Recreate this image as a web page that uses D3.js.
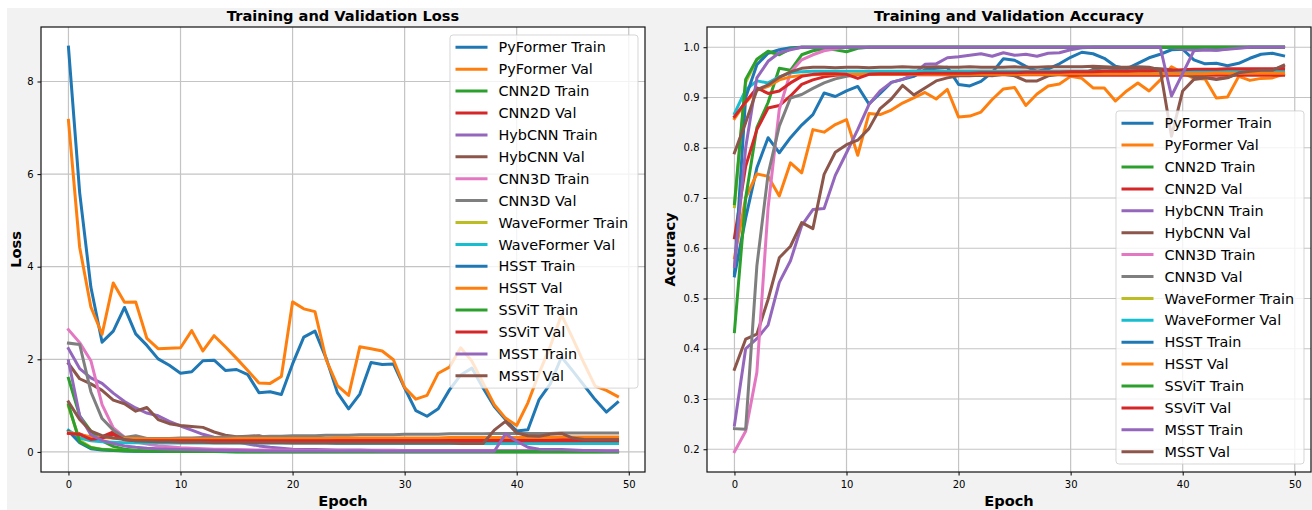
<!DOCTYPE html>
<html lang="en">
<meta charset="UTF-8">
<title>Training and Validation Loss / Accuracy</title>
<script src="https://d3js.org/d3.v7.min.js"></script>
<style>
body { margin: 0; background: #fff; }
svg text { font-family: "DejaVu Sans", sans-serif; fill: #000; }
</style>
<body>
<div id="chart"></div>
<script>
// ---- data ----
var epochs = d3.range(50);
var epochTicks = [0, 10, 20, 30, 40, 50];
var lossTicks = [0, 2, 4, 6, 8];
var accTicks = [0.2, 0.3, 0.4, 0.5, 0.6, 0.7, 0.8, 0.9, 1.0];

var seriesNames = ["PyFormer Train", "PyFormer Val", "CNN2D Train", "CNN2D Val",
  "HybCNN Train", "HybCNN Val", "CNN3D Train", "CNN3D Val",
  "WaveFormer Train", "WaveFormer Val", "HSST Train", "HSST Val",
  "SSViT Train", "SSViT Val", "MSST Train", "MSST Val"];

// loss
var pyformerTrainLoss = [
  8.74, 5.60, 3.56, 2.37, 2.61, 3.12, 2.55, 2.30, 2.01, 1.87,
  1.70, 1.73, 1.97, 1.98, 1.76, 1.78, 1.67, 1.28, 1.30, 1.24,
  1.90, 2.48, 2.61, 2.02, 1.28, 0.93, 1.25, 1.93, 1.89, 1.90,
  1.38, 0.89, 0.77, 0.93, 1.34, 1.66, 1.81, 1.38, 0.98, 0.70,
  0.45, 0.48, 1.13, 1.47, 2.05, 1.75, 1.44, 1.13, 0.86, 1.07];
var pyformerValLoss = [
  7.16, 4.42, 3.13, 2.54, 3.65, 3.23, 3.24, 2.45, 2.23, 2.24,
  2.25, 2.62, 2.18, 2.51, 2.27, 2.02, 1.76, 1.49, 1.48, 1.63,
  3.24, 3.09, 3.03, 1.99, 1.43, 1.22, 2.27, 2.23, 2.18, 1.99,
  1.39, 1.14, 1.22, 1.70, 1.83, 2.25, 1.96, 1.49, 1.02, 0.73,
  0.57, 1.06, 1.70, 2.28, 2.96, 2.45, 1.92, 1.42, 1.33, 1.20];
var cnn2dTrainLoss = [
  1.59, 0.78, 0.45, 0.24, 0.12, 0.06, 0.035, 0.022, 0.016, 0.012,
  0.010, 0.009, 0.008, 0.007, 0.007, 0.006, 0.006, 0.005, 0.005, 0.005,
  0.005, 0.005, 0.005, 0.004, 0.004, 0.004, 0.004, 0.004, 0.004, 0.004,
  0.004, 0.003, 0.003, 0.003, 0.003, 0.003, 0.003, 0.003, 0.003, 0.003,
  0.003, 0.003, 0.003, 0.003, 0.003, 0.003, 0.003, 0.003, 0.003, 0.003];
var cnn2dValLoss = [
  0.41, 0.39, 0.29, 0.33, 0.43, 0.30, 0.28, 0.27, 0.27, 0.27,
  0.27, 0.27, 0.27, 0.27, 0.27, 0.27, 0.27, 0.27, 0.27, 0.27,
  0.27, 0.27, 0.27, 0.27, 0.27, 0.27, 0.27, 0.27, 0.27, 0.27,
  0.27, 0.27, 0.27, 0.27, 0.27, 0.27, 0.27, 0.27, 0.27, 0.27,
  0.27, 0.27, 0.28, 0.28, 0.28, 0.28, 0.28, 0.28, 0.28, 0.28];
var hybcnnTrainLoss = [
  2.23, 1.80, 1.60, 1.48, 1.27, 1.09, 0.95, 0.84, 0.78, 0.66,
  0.56, 0.47, 0.38, 0.32, 0.27, 0.22, 0.17, 0.13, 0.10, 0.08,
  0.06, 0.05, 0.05, 0.045, 0.04, 0.04, 0.04, 0.035, 0.035, 0.035,
  0.03, 0.03, 0.03, 0.03, 0.03, 0.03, 0.03, 0.03, 0.03, 0.03,
  0.03, 0.03, 0.03, 0.025, 0.025, 0.025, 0.025, 0.025, 0.025, 0.025];
var hybcnnValLoss = [
  1.91, 1.58, 1.47, 1.33, 1.12, 1.04, 0.88, 0.96, 0.70, 0.61,
  0.57, 0.55, 0.53, 0.43, 0.36, 0.33, 0.34, 0.35, 0.29, 0.26,
  0.25, 0.24, 0.24, 0.23, 0.23, 0.23, 0.23, 0.22, 0.22, 0.22,
  0.22, 0.22, 0.21, 0.21, 0.21, 0.21, 0.21, 0.21, 0.21, 0.21,
  0.21, 0.21, 0.21, 0.21, 0.21, 0.21, 0.21, 0.21, 0.21, 0.21];
var cnn3dTrainLoss = [
  2.64, 2.36, 1.97, 1.02, 0.52, 0.32, 0.22, 0.17, 0.13, 0.11,
  0.09, 0.08, 0.07, 0.06, 0.055, 0.05, 0.045, 0.04, 0.04, 0.035,
  0.035, 0.03, 0.03, 0.03, 0.03, 0.025, 0.025, 0.025, 0.025, 0.025,
  0.02, 0.02, 0.02, 0.02, 0.02, 0.02, 0.02, 0.02, 0.02, 0.02,
  0.02, 0.02, 0.02, 0.02, 0.02, 0.02, 0.02, 0.02, 0.02, 0.02];
var cnn3dValLoss = [
  2.35, 2.32, 1.30, 0.72, 0.47, 0.31, 0.35, 0.29, 0.29, 0.29,
  0.30, 0.30, 0.31, 0.31, 0.32, 0.32, 0.33, 0.33, 0.34, 0.34,
  0.35, 0.35, 0.35, 0.36, 0.36, 0.36, 0.37, 0.37, 0.37, 0.37,
  0.38, 0.38, 0.38, 0.38, 0.39, 0.39, 0.39, 0.39, 0.40, 0.40,
  0.40, 0.40, 0.40, 0.40, 0.41, 0.41, 0.41, 0.41, 0.41, 0.41];
var waveformerTrainLoss = [
  0.98, 0.25, 0.10, 0.055, 0.04, 0.03, 0.022, 0.017, 0.013, 0.011,
  0.010, 0.009, 0.008, 0.008, 0.007, 0.007, 0.006, 0.006, 0.006, 0.005,
  0.005, 0.005, 0.005, 0.005, 0.005, 0.005, 0.005, 0.005, 0.005, 0.005,
  0.004, 0.004, 0.004, 0.004, 0.004, 0.004, 0.004, 0.004, 0.004, 0.004,
  0.004, 0.004, 0.004, 0.004, 0.004, 0.004, 0.004, 0.004, 0.004, 0.004];
var waveformerValLoss = [
  0.47, 0.30, 0.24, 0.22, 0.21, 0.20, 0.20, 0.19, 0.19, 0.19,
  0.19, 0.19, 0.19, 0.19, 0.19, 0.19, 0.19, 0.19, 0.19, 0.19,
  0.19, 0.19, 0.19, 0.19, 0.18, 0.18, 0.18, 0.18, 0.18, 0.18,
  0.18, 0.18, 0.18, 0.18, 0.18, 0.18, 0.18, 0.18, 0.18, 0.18,
  0.18, 0.18, 0.18, 0.18, 0.18, 0.18, 0.18, 0.18, 0.18, 0.18];
var hsstTrainLoss = [
  0.45, 0.20, 0.07, 0.04, 0.03, 0.02, 0.015, 0.012, 0.010, 0.009,
  0.008, 0.008, 0.007, 0.007, 0.006, 0.006, 0.006, 0.005, 0.005, 0.005,
  0.005, 0.005, 0.005, 0.005, 0.005, 0.005, 0.005, 0.005, 0.004, 0.004,
  0.004, 0.004, 0.004, 0.004, 0.004, 0.004, 0.004, 0.004, 0.004, 0.004,
  0.004, 0.004, 0.004, 0.004, 0.004, 0.004, 0.004, 0.004, 0.004, 0.004];
var hsstValLoss = [
  0.42, 0.37, 0.33, 0.31, 0.30, 0.29, 0.29, 0.28, 0.28, 0.28,
  0.28, 0.28, 0.28, 0.28, 0.28, 0.29, 0.29, 0.29, 0.29, 0.29,
  0.29, 0.29, 0.29, 0.29, 0.30, 0.30, 0.30, 0.30, 0.30, 0.30,
  0.30, 0.30, 0.30, 0.30, 0.31, 0.31, 0.31, 0.31, 0.31, 0.31,
  0.31, 0.31, 0.31, 0.31, 0.32, 0.32, 0.32, 0.32, 0.32, 0.32];
var ssvitTrainLoss = [
  1.02, 0.22, 0.09, 0.05, 0.035, 0.025, 0.02, 0.015, 0.012, 0.010,
  0.009, 0.008, 0.008, 0.007, 0.007, 0.006, 0.006, 0.006, 0.005, 0.005,
  0.005, 0.005, 0.005, 0.004, 0.004, 0.004, 0.004, 0.004, 0.004, 0.004,
  0.004, 0.004, 0.004, 0.004, 0.004, 0.004, 0.004, 0.004, 0.004, 0.004,
  0.004, 0.004, 0.004, 0.004, 0.004, 0.004, 0.004, 0.004, 0.004, 0.004];
var ssvitValLoss = [
  0.40, 0.38, 0.27, 0.30, 0.38, 0.26, 0.24, 0.24, 0.24, 0.24,
  0.24, 0.24, 0.24, 0.24, 0.24, 0.24, 0.24, 0.24, 0.24, 0.24,
  0.24, 0.24, 0.24, 0.24, 0.24, 0.24, 0.24, 0.24, 0.24, 0.24,
  0.24, 0.24, 0.24, 0.24, 0.24, 0.24, 0.24, 0.24, 0.24, 0.24,
  0.24, 0.24, 0.24, 0.24, 0.24, 0.24, 0.24, 0.24, 0.24, 0.24];
var msstTrainLoss = [
  1.97, 0.78, 0.37, 0.25, 0.18, 0.13, 0.10, 0.08, 0.07, 0.06,
  0.05, 0.045, 0.04, 0.035, 0.03, 0.03, 0.025, 0.025, 0.02, 0.02,
  0.02, 0.02, 0.02, 0.02, 0.02, 0.02, 0.02, 0.02, 0.015, 0.015,
  0.015, 0.015, 0.015, 0.015, 0.015, 0.015, 0.015, 0.015, 0.015, 0.39,
  0.23, 0.10, 0.06, 0.05, 0.05, 0.04, 0.03, 0.03, 0.02, 0.02];
var msstValLoss = [
  1.08, 0.70, 0.45, 0.35, 0.30, 0.27, 0.24, 0.23, 0.22, 0.22,
  0.21, 0.21, 0.21, 0.20, 0.20, 0.20, 0.20, 0.20, 0.20, 0.20,
  0.19, 0.19, 0.19, 0.19, 0.19, 0.19, 0.19, 0.19, 0.19, 0.19,
  0.19, 0.19, 0.19, 0.19, 0.19, 0.18, 0.18, 0.18, 0.47, 0.66,
  0.41, 0.35, 0.34, 0.38, 0.40, 0.30, 0.27, 0.26, 0.26, 0.26];

// accuracy
var pyformerTrainAcc = [
  0.545, 0.660, 0.760, 0.820, 0.790, 0.820, 0.845, 0.866, 0.909, 0.902,
  0.913, 0.922, 0.887, 0.908, 0.930, 0.936, 0.942, 0.955, 0.958, 0.960,
  0.926, 0.923, 0.932, 0.950, 0.977, 0.974, 0.962, 0.952, 0.957, 0.967,
  0.980, 0.990, 0.987, 0.978, 0.962, 0.957, 0.968, 0.979, 0.986, 0.995,
  0.996, 0.975, 0.967, 0.968, 0.963, 0.968, 0.978, 0.986, 0.988, 0.983];
var pyformerValAcc = [
  0.581, 0.700, 0.748, 0.743, 0.704, 0.770, 0.750, 0.836, 0.831, 0.846,
  0.856, 0.785, 0.868, 0.866, 0.875, 0.889, 0.899, 0.910, 0.897, 0.916,
  0.861, 0.863, 0.871, 0.896, 0.917, 0.920, 0.884, 0.907, 0.923, 0.927,
  0.942, 0.938, 0.919, 0.919, 0.893, 0.913, 0.929, 0.913, 0.935, 0.961,
  0.949, 0.938, 0.937, 0.899, 0.901, 0.942, 0.934, 0.938, 0.939, 0.946];
var cnn2dTrainAcc = [
  0.434, 0.700, 0.840, 0.890, 0.958, 0.954, 0.985, 0.993, 0.997, 0.995,
  0.991, 0.998, 1.000, 1.000, 1.000, 1.000, 1.000, 1.000, 1.000, 1.000,
  1.000, 1.000, 1.000, 1.000, 1.000, 1.000, 1.000, 1.000, 1.000, 1.000,
  1.000, 1.000, 1.000, 1.000, 1.000, 1.000, 1.000, 1.000, 1.000, 1.000,
  1.000, 1.000, 1.000, 1.000, 1.000, 1.000, 1.000, 1.000, 1.000, 1.000];
var cnn2dValAcc = [
  0.621, 0.763, 0.836, 0.879, 0.884, 0.903, 0.926, 0.935, 0.941, 0.944,
  0.945, 0.946, 0.946, 0.946, 0.946, 0.946, 0.945, 0.945, 0.945, 0.945,
  0.945, 0.945, 0.945, 0.945, 0.945, 0.945, 0.945, 0.945, 0.945, 0.945,
  0.944, 0.944, 0.944, 0.944, 0.944, 0.944, 0.944, 0.944, 0.944, 0.944,
  0.944, 0.944, 0.944, 0.944, 0.944, 0.944, 0.944, 0.944, 0.944, 0.944];
var hybcnnTrainAcc = [
  0.248, 0.400, 0.420, 0.447, 0.532, 0.575, 0.645, 0.677, 0.679, 0.745,
  0.790, 0.836, 0.886, 0.913, 0.930, 0.936, 0.946, 0.966, 0.967, 0.979,
  0.981, 0.984, 0.987, 0.982, 0.989, 0.984, 0.986, 0.982, 0.988, 0.989,
  0.995, 0.999, 1.000, 1.000, 1.000, 1.000, 1.000, 1.000, 1.000, 0.999,
  0.996, 0.994, 0.995, 0.994, 0.997, 0.999, 1.000, 1.000, 1.000, 1.000];
var hybcnnValAcc = [
  0.359, 0.419, 0.429, 0.498, 0.581, 0.604, 0.651, 0.639, 0.747, 0.791,
  0.806, 0.815, 0.838, 0.878, 0.897, 0.924, 0.905, 0.919, 0.933, 0.939,
  0.943, 0.943, 0.944, 0.943, 0.946, 0.943, 0.933, 0.933, 0.943, 0.946,
  0.949, 0.946, 0.956, 0.959, 0.957, 0.958, 0.958, 0.958, 0.957, 0.955,
  0.948, 0.941, 0.940, 0.937, 0.940, 0.948, 0.952, 0.954, 0.955, 0.962];
var cnn3dTrainAcc = [
  0.195, 0.236, 0.353, 0.680, 0.876, 0.950, 0.975, 0.985, 0.993, 0.997,
  1.000, 1.000, 1.000, 1.000, 1.000, 1.000, 1.000, 1.000, 1.000, 1.000,
  1.000, 1.000, 1.000, 1.000, 1.000, 1.000, 1.000, 1.000, 1.000, 1.000,
  1.000, 1.000, 1.000, 1.000, 1.000, 1.000, 1.000, 1.000, 1.000, 1.000,
  1.000, 1.000, 1.000, 1.000, 1.000, 1.000, 1.000, 1.000, 1.000, 1.000];
var cnn3dValAcc = [
  0.241, 0.240, 0.565, 0.747, 0.843, 0.899, 0.906, 0.918, 0.929, 0.937,
  0.942, 0.945, 0.947, 0.949, 0.950, 0.951, 0.952, 0.952, 0.952, 0.952,
  0.952, 0.952, 0.952, 0.952, 0.952, 0.952, 0.952, 0.952, 0.952, 0.952,
  0.952, 0.952, 0.952, 0.952, 0.952, 0.952, 0.952, 0.952, 0.952, 0.952,
  0.952, 0.952, 0.953, 0.953, 0.953, 0.953, 0.953, 0.953, 0.953, 0.953];
var waveformerTrainAcc = [
  0.683, 0.930, 0.975, 0.990, 0.986, 0.997, 1.000, 1.000, 1.000, 1.000,
  1.000, 1.000, 1.000, 1.000, 1.000, 1.000, 1.000, 1.000, 1.000, 1.000,
  1.000, 1.000, 1.000, 1.000, 1.000, 1.000, 1.000, 1.000, 1.000, 1.000,
  1.000, 1.000, 1.000, 1.000, 1.000, 1.000, 1.000, 1.000, 1.000, 1.000,
  1.000, 1.000, 1.000, 1.000, 1.000, 1.000, 1.000, 1.000, 1.000, 1.000];
var waveformerValAcc = [
  0.868, 0.915, 0.933, 0.929, 0.941, 0.949, 0.951, 0.952, 0.952, 0.952,
  0.952, 0.952, 0.952, 0.952, 0.952, 0.952, 0.952, 0.952, 0.952, 0.952,
  0.952, 0.952, 0.952, 0.952, 0.952, 0.952, 0.952, 0.952, 0.952, 0.952,
  0.952, 0.952, 0.952, 0.952, 0.952, 0.952, 0.952, 0.952, 0.952, 0.952,
  0.951, 0.951, 0.951, 0.951, 0.951, 0.951, 0.951, 0.951, 0.951, 0.951];
var hsstTrainAcc = [
  0.550, 0.900, 0.965, 0.988, 0.995, 0.999, 1.000, 1.000, 1.000, 1.000,
  1.000, 1.000, 1.000, 1.000, 1.000, 1.000, 1.000, 1.000, 1.000, 1.000,
  1.000, 1.000, 1.000, 1.000, 1.000, 1.000, 1.000, 1.000, 1.000, 1.000,
  1.000, 1.000, 1.000, 1.000, 1.000, 1.000, 1.000, 1.000, 1.000, 1.000,
  1.000, 1.000, 1.000, 1.000, 1.000, 1.000, 1.000, 1.000, 1.000, 1.000];
var hsstValAcc = [
  0.858, 0.890, 0.914, 0.922, 0.935, 0.941, 0.944, 0.945, 0.946, 0.946,
  0.946, 0.946, 0.946, 0.946, 0.946, 0.946, 0.946, 0.946, 0.946, 0.946,
  0.946, 0.946, 0.946, 0.946, 0.946, 0.946, 0.946, 0.946, 0.946, 0.946,
  0.947, 0.947, 0.947, 0.947, 0.947, 0.947, 0.947, 0.947, 0.947, 0.947,
  0.947, 0.947, 0.947, 0.948, 0.948, 0.948, 0.948, 0.948, 0.948, 0.948];
var ssvitTrainAcc = [
  0.689, 0.936, 0.976, 0.992, 0.985, 0.997, 1.000, 1.000, 1.000, 1.000,
  1.000, 1.000, 1.000, 1.000, 1.000, 1.000, 1.000, 1.000, 1.000, 1.000,
  1.000, 1.000, 1.000, 1.000, 1.000, 1.000, 1.000, 1.000, 1.000, 1.000,
  1.000, 1.000, 1.000, 1.000, 1.000, 1.000, 1.000, 1.000, 1.000, 1.000,
  1.000, 1.000, 1.000, 1.000, 1.000, 1.000, 1.000, 1.000, 1.000, 1.000];
var ssvitValAcc = [
  0.862, 0.891, 0.919, 0.908, 0.913, 0.929, 0.942, 0.946, 0.947, 0.947,
  0.946, 0.938, 0.946, 0.947, 0.947, 0.947, 0.947, 0.948, 0.948, 0.948,
  0.948, 0.948, 0.949, 0.949, 0.949, 0.949, 0.950, 0.950, 0.950, 0.950,
  0.951, 0.951, 0.951, 0.952, 0.952, 0.952, 0.953, 0.953, 0.954, 0.954,
  0.955, 0.956, 0.956, 0.956, 0.957, 0.957, 0.957, 0.957, 0.957, 0.957];
var msstTrainAcc = [
  0.564, 0.800, 0.939, 0.972, 0.989, 0.995, 1.000, 1.000, 1.000, 1.000,
  1.000, 1.000, 1.000, 1.000, 1.000, 1.000, 1.000, 1.000, 1.000, 1.000,
  1.000, 1.000, 1.000, 1.000, 1.000, 1.000, 1.000, 1.000, 1.000, 1.000,
  1.000, 1.000, 1.000, 1.000, 1.000, 1.000, 1.000, 1.000, 1.000, 0.903,
  0.948, 0.993, 0.995, 0.994, 0.996, 0.998, 1.000, 1.000, 1.000, 1.000];
var msstValAcc = [
  0.790, 0.850, 0.915, 0.925, 0.940, 0.951, 0.958, 0.960, 0.960, 0.959,
  0.960, 0.960, 0.959, 0.960, 0.960, 0.961, 0.960, 0.960, 0.961, 0.960,
  0.960, 0.961, 0.960, 0.960, 0.960, 0.961, 0.960, 0.960, 0.961, 0.961,
  0.961, 0.961, 0.962, 0.961, 0.960, 0.960, 0.961, 0.960, 0.955, 0.823,
  0.913, 0.936, 0.939, 0.936, 0.939, 0.949, 0.952, 0.954, 0.954, 0.964];

var lossSeries = [pyformerTrainLoss, pyformerValLoss, cnn2dTrainLoss, cnn2dValLoss,
  hybcnnTrainLoss, hybcnnValLoss, cnn3dTrainLoss, cnn3dValLoss,
  waveformerTrainLoss, waveformerValLoss, hsstTrainLoss, hsstValLoss,
  ssvitTrainLoss, ssvitValLoss, msstTrainLoss, msstValLoss];
var accSeries = [pyformerTrainAcc, pyformerValAcc, cnn2dTrainAcc, cnn2dValAcc,
  hybcnnTrainAcc, hybcnnValAcc, cnn3dTrainAcc, cnn3dValAcc,
  waveformerTrainAcc, waveformerValAcc, hsstTrainAcc, hsstValAcc,
  ssvitTrainAcc, ssvitValAcc, msstTrainAcc, msstValAcc];

// ---- layout ----
var W = 1312, H = 510;
var plotTop = 27, plotBottom = 472;
var palette = d3.schemeCategory10;

var svg = d3.select("#chart").append("svg")
    .attr("width", W)
    .attr("height", H);

// figure background (light grey, thin white strip top/left)
svg.append("rect").attr("width", W).attr("height", H).attr("fill", "#fff");
svg.append("rect").attr("x", 7).attr("y", 8)
    .attr("width", W - 7).attr("height", H - 8)
    .attr("fill", "#f2f2f2");

var panels = [
  {id: "loss", title: "Training and Validation Loss", yLabel: "Loss",
   left: 41, right: 645, labelX: 20.5, series: lossSeries,
   ticks: lossTicks, fmt: d3.format("d"), legendPos: "top"},
  {id: "acc", title: "Training and Validation Accuracy", yLabel: "Accuracy",
   left: 707, right: 1311, labelX: 674.5, series: accSeries,
   ticks: accTicks, fmt: d3.format(".1f"), legendPos: "bottom"}
];

panels.forEach(drawPanel);

function drawPanel(p) {
  // matplotlib style 5% margins
  var x = d3.scaleLinear().domain([-2.45, 51.45]).range([p.left, p.right]);
  var ext = d3.extent(d3.merge(p.series));
  var pad = (ext[1] - ext[0]) * 0.05;
  var y = d3.scaleLinear().domain([ext[0] - pad, ext[1] + pad]).range([plotBottom, plotTop]);

  var g = svg.append("g");

  g.append("rect")
      .attr("x", p.left).attr("y", plotTop)
      .attr("width", p.right - p.left).attr("height", plotBottom - plotTop)
      .attr("fill", "#fff");

  // grid
  g.selectAll(".vgrid").data(epochTicks).join("line")
      .attr("x1", d => x(d)).attr("x2", d => x(d))
      .attr("y1", plotTop).attr("y2", plotBottom)
      .attr("stroke", "#c4c4c4").attr("stroke-width", 1.2);
  g.selectAll(".hgrid").data(p.ticks).join("line")
      .attr("x1", p.left).attr("x2", p.right)
      .attr("y1", d => y(d)).attr("y2", d => y(d))
      .attr("stroke", "#c4c4c4").attr("stroke-width", 1.2);

  // lines
  svg.append("clipPath").attr("id", "clip-" + p.id)
    .append("rect")
      .attr("x", p.left).attr("y", plotTop)
      .attr("width", p.right - p.left).attr("height", plotBottom - plotTop);

  var line = d3.line()
      .x((d, i) => x(epochs[i]))
      .y(d => y(d));

  g.append("g").attr("clip-path", "url(#clip-" + p.id + ")")
    .selectAll("path").data(p.series).join("path")
      .attr("d", line)
      .attr("fill", "none")
      .attr("stroke", (d, i) => palette[i % 10])
      .attr("stroke-width", 3)
      .attr("stroke-linejoin", "round")
      .attr("stroke-linecap", "square");

  // axes
  var xAxis = g.append("g")
      .attr("transform", "translate(0," + plotBottom + ")")
      .call(d3.axisBottom(x).tickValues(epochTicks).tickSize(3.5).tickPadding(5));
  var yAxis = g.append("g")
      .attr("transform", "translate(" + p.left + ",0)")
      .call(d3.axisLeft(y).tickValues(p.ticks).tickFormat(p.fmt).tickSize(3.5).tickPadding(4));
  [xAxis, yAxis].forEach(function(a) {
    a.select(".domain").remove();
    a.selectAll("line").attr("stroke", "#000").attr("stroke-width", 1);
    a.selectAll("text").style("font-size", "10px")
        .style("font-family", "'DejaVu Sans', sans-serif").attr("fill", "#000");
  });

  // frame
  g.append("rect")
      .attr("x", p.left).attr("y", plotTop)
      .attr("width", p.right - p.left).attr("height", plotBottom - plotTop)
      .attr("fill", "none").attr("stroke", "#111").attr("stroke-width", 1.2);

  // title and labels
  g.append("text")
      .attr("x", (p.left + p.right) / 2).attr("y", 20.5)
      .attr("text-anchor", "middle")
      .style("font-size", "14.6px").style("font-weight", "bold")
      .text(p.title);
  g.append("text")
      .attr("x", (p.left + p.right) / 2).attr("y", 506)
      .attr("text-anchor", "middle")
      .style("font-size", "14.6px").style("font-weight", "bold")
      .text("Epoch");
  g.append("text")
      .attr("transform", "translate(" + p.labelX + "," + ((plotTop + plotBottom) / 2) + ") rotate(-90)")
      .attr("text-anchor", "middle")
      .style("font-size", "14.6px").style("font-weight", "bold")
      .text(p.yLabel);

  // legend
  var rowH = 21.9, lw = 188, lh = 12.3 * 2 + rowH * (seriesNames.length - 1);
  var lx = p.right - 7 - lw;
  var ly = p.legendPos === "top" ? plotTop + 8 : plotBottom - 8 - lh;
  var lg = g.append("g").attr("transform", "translate(" + lx + "," + ly + ")");
  lg.append("rect")
      .attr("width", lw).attr("height", lh).attr("rx", 3)
      .attr("fill", "#fff").attr("fill-opacity", 0.8)
      .attr("stroke", "#cccccc").attr("stroke-opacity", 0.8);
  var rows = lg.selectAll(".row").data(seriesNames).join("g")
      .attr("transform", (d, i) => "translate(0," + (12.3 + i * rowH) + ")");
  rows.append("line")
      .attr("x1", 5.5).attr("x2", 37.5)
      .attr("stroke", (d, i) => palette[i % 10])
      .attr("stroke-width", 3);
  rows.append("text")
      .attr("x", 48.5).attr("dy", "0.36em")
      .style("font-size", "14.4px")
      .text(d => d);
}
</script>
</body>
</html>
